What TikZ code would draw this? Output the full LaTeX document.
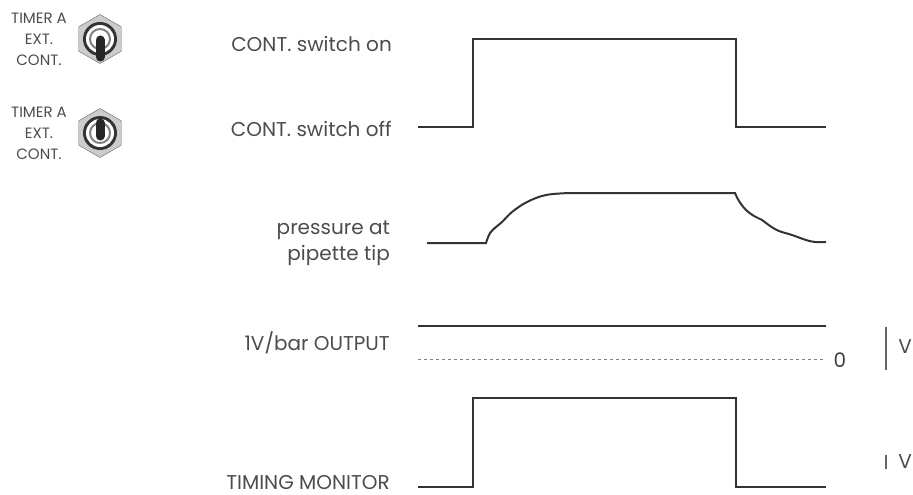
\documentclass[tikz,border=0pt]{standalone}
\usepackage{fontspec}
\setmainfont{Poppins}
\usetikzlibrary{shapes.geometric}
\tikzstyle{trace} = [line width=2pt, black!80, line join=miter]
\tikzstyle{caption} = [font=\fontsize{20}{26}\selectfont, text=black!70, inner sep=0pt, anchor=east, align=right]
\tikzstyle{panel} = [font=\fontsize{15}{21}\selectfont, text=black!70, inner sep=0pt, align=center]
\tikzstyle{scalebar} = [black!60, line width=1.5pt]
\tikzset{lever/.style={black!85, line width=9pt, line cap=round}}

\begin{document}
\begin{tikzpicture}[x=1pt, y=-1pt]
  \useasboundingbox (0,0) rectangle (913,495);
  % Toggle switches
  \foreach \name/\y/\from/\to in {down/39/1/18, up/133/3/-10} {
    \node[panel] (label-\name) at (39,\y) {TIMER A\\EXT.\\CONT.};
    \node[regular polygon, regular polygon sides=6, shape border rotate=30, minimum size=49pt,
          draw=black!60, fill=gray!40, inner sep=0pt] (hex-\name) at (100,\y) {};
    \fill[black!80] (hex-\name.center) circle (17);
    \fill[white] (hex-\name.center) circle (14);
    \draw[gray, line width=2pt] (hex-\name.center) circle (10);
    \draw[lever] (100,\y+\from) -- (100,\y+\to);
  }
  % CONT. switch
  \node[caption] (on) at (392,44) {CONT. switch on};
  \node[caption] (off) at (392,129) {CONT. switch off};
  \draw[trace] (418,127) -- (473,127) -- (473,39) -- (736,39) -- (736,127) -- (826,127);
  % Pressure at pipette tip
  \node[caption] (tip) at (390,243) {pressure at\\pipette tip};
  \draw[trace] (427,243) -- (486,243)
    -- plot[smooth, tension=0.6] coordinates {(486,243) (490,233) (496,227) (502,222) (512,212)
       (527,202) (546,195) (570,193)}
    -- (735,193)
    -- plot[smooth, tension=0.6] coordinates {(735,193) (739,201) (746,210) (754,216) (762,220)
       (770,226) (779,231) (792,235) (806,240) (815,242) (826,242)};
  % 1V/bar output
  \node[caption] (output) at (390,343) {1V/bar OUTPUT};
  \draw[trace] (418,326) -- (826,326);
  \draw[dashed, black!50, line width=0.8pt] (418,359) -- (826,359);
  \node[caption, anchor=center, text=black!75] (zero) at (840,360) {0};
  \draw[scalebar] (886,327) -- (886,370);
  \node[caption, anchor=center] (volt-out) at (905,347) {V};
  % Timing monitor
  \node[caption] (timing) at (390,483) {TIMING MONITOR};
  \draw[trace] (418,487) -- (473,487) -- (473,398) -- (736,398) -- (736,487) -- (826,487);
  \draw[scalebar] (886,455) -- (886,469);
  \node[caption, anchor=center] (volt-mon) at (905,462) {V};
\end{tikzpicture}
\end{document}
